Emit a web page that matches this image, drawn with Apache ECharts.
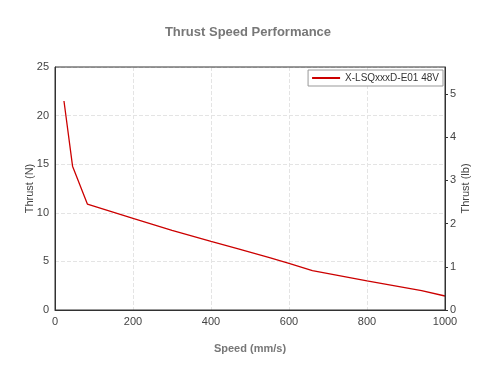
<!DOCTYPE html>
<html><head><meta charset="utf-8">
<script src="https://cdn.jsdelivr.net/npm/echarts@6/dist/echarts.min.js"></script>
<style>html,body{margin:0;padding:0;background:#fff}#c{width:496px;height:375px}</style>
</head><body><div id="c"></div>
<script>
const seriesName = 'X-LSQxxxD-E01 48V';
const speed = [23, 45, 83, 200, 300, 400, 470, 550, 600, 660, 800, 940, 1000];
const thrustN = [21.5, 14.8, 10.9, 9.43, 8.2, 7.05, 6.3, 5.4, 4.8, 4.05, 3.0, 2.0, 1.44];
const N_PER_LB = 4.448;
const chart = echarts.init(document.getElementById('c'));
const font = 'Arial, "Liberation Sans", sans-serif';
chart.setOption({
  animation: false,
  title: { text: 'Thrust Speed Performance', left: 'center', top: 21,
    textStyle: { fontFamily: font, fontSize: 13, fontWeight: 'bold', color: '#777' } },
  legend: { right: 53, top: 70, itemWidth: 28, itemHeight: 2, padding: [3, 4, 3, 4],
    borderColor: '#999', borderWidth: 1, borderRadius: 0, backgroundColor: '#fff',
    icon: 'rect', itemGap: 6,
    textStyle: { fontFamily: font, fontSize: 10, color: '#333' },
    data: [seriesName] },
  grid: { left: 55, right: 51, top: 67, bottom: 65, show: true, borderColor: '#333', borderWidth: 1, z: 10 },
  xAxis: { type: 'value', min: 0, max: 1000, interval: 200,
    name: 'Speed (mm/s)', nameLocation: 'middle', nameGap: 33,
    nameTextStyle: { fontFamily: font, fontSize: 11, color: '#777', fontWeight: 'bold' },
    axisLine: { lineStyle: { color: '#333' } }, axisTick: { show: false },
    axisLabel: { fontFamily: font, fontSize: 11, color: '#444', margin: 6, formatter: v => String(v) },
    splitLine: { lineStyle: { color: '#e4e4e4', type: 'dashed' } } },
  yAxis: [
    { type: 'value', min: 0, max: 25, interval: 5, position: 'left',
      name: 'Thrust (N)', nameLocation: 'middle', nameGap: 20, nameMoveOverlap: false,
      nameTextStyle: { fontFamily: font, fontSize: 11, color: '#444' },
      axisLine: { show: true, lineStyle: { color: '#333' } }, axisTick: { show: false },
      axisLabel: { fontFamily: font, fontSize: 11, color: '#444', margin: 6 },
      splitLine: { lineStyle: { color: '#e4e4e4', type: 'dashed' } } },
    { type: 'value', min: 0, max: 25 / N_PER_LB, interval: 1, position: 'right',
      name: 'Thrust (lb)', nameLocation: 'middle', nameGap: 15, nameMoveOverlap: false,
      nameTextStyle: { fontFamily: font, fontSize: 11, color: '#444' },
      axisLine: { show: true, lineStyle: { color: '#333' } },
      axisTick: { show: true, length: 3, lineStyle: { color: '#333' } },
      axisLabel: { fontFamily: font, fontSize: 11, color: '#444', margin: 5,
        showMaxLabel: false, formatter: v => Number.isInteger(v) ? String(v) : '' },
      splitLine: { show: false } }
  ],
  series: [{ name: seriesName, type: 'line', yAxisIndex: 0, showSymbol: false,
    lineStyle: { color: '#cc0000', width: 1.3 }, itemStyle: { color: '#cc0000' },
    data: speed.map((s, i) => [s, thrustN[i]]) }]
});
</script></body></html>
